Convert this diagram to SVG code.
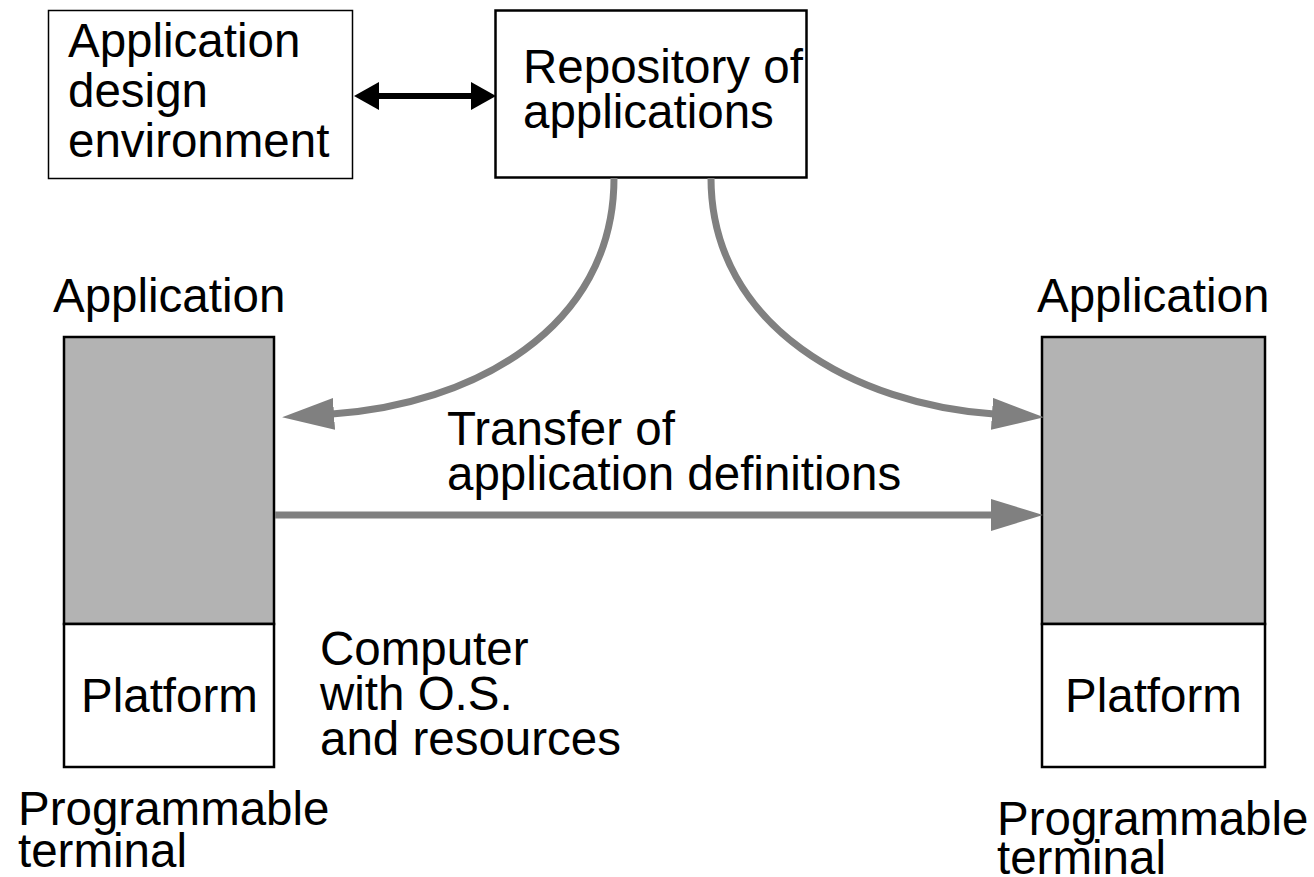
<svg xmlns="http://www.w3.org/2000/svg" width="1314" height="877" viewBox="0 0 1314 877">
  <style>
    text { font-family: "Liberation Sans", Arial, Helvetica, sans-serif; font-size: 47.5px; fill: #000; }
    .box { fill: #fff; stroke: #000; }
    .app { fill: #b3b3b3; stroke: #000; stroke-width: 2.5; }
    .plat { fill: #fff; stroke: #000; stroke-width: 2.5; }
    .flow { fill: none; stroke: #808080; stroke-width: 7; }
    .link { fill: none; stroke: #000; stroke-width: 6; }
  </style>
  <defs>
    <marker id="grayHead" markerUnits="userSpaceOnUse" markerWidth="56" markerHeight="34" refX="2" refY="16" orient="auto">
      <path d="M0,0 L52,16 L0,32 Z" fill="#808080"/>
    </marker>
    <marker id="blackHead" markerUnits="userSpaceOnUse" markerWidth="28" markerHeight="30" refX="1" refY="14" orient="auto-start-reverse">
      <path d="M0,0 L25,14 L0,28 Z" fill="#000"/>
    </marker>
  </defs>

  <!-- design environment -->
  <g id="design-env">
    <rect class="box" x="48.5" y="10.5" width="304" height="168" stroke-width="1.5"/>
    <text x="68" y="57">Application</text>
    <text x="68" y="107">design</text>
    <text x="68" y="157">environment</text>
  </g>

  <!-- repository -->
  <g id="repository">
    <rect class="box" x="495.5" y="10.5" width="311" height="167" stroke-width="2.5"/>
    <text x="523" y="83">Repository of</text>
    <text x="523" y="128">applications</text>
  </g>

  <!-- left terminal -->
  <g id="terminal-left">
    <text x="53" y="312">Application</text>
    <rect class="app" x="64" y="337" width="210" height="287"/>
    <rect class="plat" x="64" y="624" width="210" height="143"/>
    <text x="81" y="712">Platform</text>
    <text x="18" y="825">Programmable</text>
    <text x="18" y="867">terminal</text>
  </g>

  <!-- right terminal -->
  <g id="terminal-right">
    <text x="1037" y="312">Application</text>
    <rect class="app" x="1042" y="337" width="223" height="287"/>
    <rect class="plat" x="1042" y="624" width="223" height="143"/>
    <text x="1065" y="712">Platform</text>
    <text x="997" y="835">Programmable</text>
    <text x="997" y="874">terminal</text>
  </g>

  <!-- captions -->
  <g id="transfer-label">
    <text x="447" y="445">Transfer of</text>
    <text x="447" y="490">application definitions</text>
  </g>
  <g id="computer-label">
    <text x="320" y="665">Computer</text>
    <text x="320" y="710">with O.S.</text>
    <text x="320" y="755">and resources</text>
  </g>

  <!-- connectors -->
  <g id="connectors">
    <path class="link" d="M378,96 L472,96" marker-start="url(#blackHead)" marker-end="url(#blackHead)"/>
    <path class="flow" d="M614,178 C614,330 470,405 332,414" marker-end="url(#grayHead)"/>
    <path class="flow" d="M711,178 C711,328 858,405 994,414" marker-end="url(#grayHead)"/>
    <path class="flow" d="M275,515 L993,515" marker-end="url(#grayHead)"/>
  </g>
</svg>
